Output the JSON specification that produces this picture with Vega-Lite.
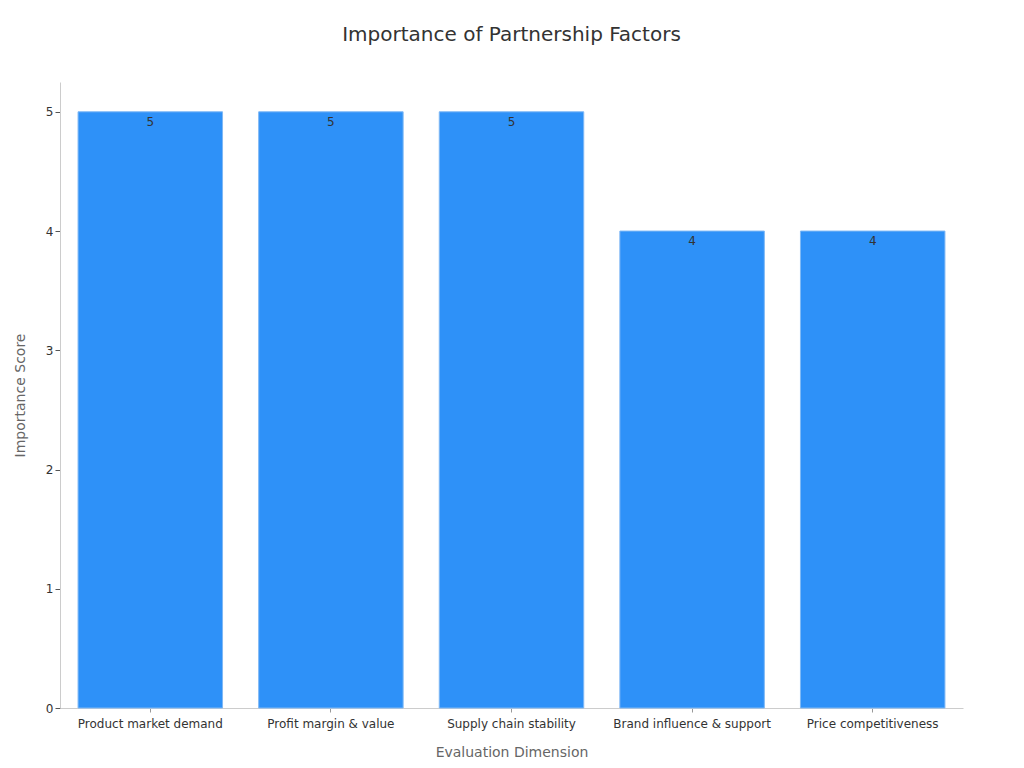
{
  "$schema": "https://vega.github.io/schema/vega-lite/v6.json",
  "description": "Importance of Partnership Factors",
  "autosize": {"type": "none"},
  "padding": {"left": 60, "top": 82, "right": 61, "bottom": 60},
  "width": 903,
  "height": 626,
  "title": {
    "text": "Importance of Partnership Factors",
    "font": "DejaVu Sans",
    "fontSize": 20,
    "fontWeight": "normal",
    "color": "#333333",
    "offset": 37
  },
  "config": {
    "view": {"stroke": null},
    "font": "DejaVu Sans"
  },
  "data": {
    "values": [
      {"dimension": "Product market demand", "score": 5},
      {"dimension": "Profit margin & value", "score": 5},
      {"dimension": "Supply chain stability", "score": 5},
      {"dimension": "Brand influence & support", "score": 4},
      {"dimension": "Price competitiveness", "score": 4}
    ]
  },
  "encoding": {
    "x": {
      "field": "dimension",
      "type": "nominal",
      "sort": null,
      "title": "Evaluation Dimension",
      "scale": {"paddingInner": 0.2, "paddingOuter": 0.1},
      "axis": {
        "labelAngle": 0,
        "labelFontSize": 12,
        "labelColor": "#333333",
        "labelPadding": 6,
        "titleFontSize": 14,
        "titleFontWeight": "normal",
        "titleColor": "#666666",
        "titlePadding": 16,
        "domainColor": "#cccccc",
        "tickColor": "#999999",
        "tickSize": 4
      }
    },
    "y": {
      "field": "score",
      "type": "quantitative",
      "title": "Importance Score",
      "scale": {"domain": [0, 5.25], "nice": false},
      "axis": {
        "values": [0, 1, 2, 3, 4, 5],
        "grid": false,
        "labelFontSize": 12,
        "labelColor": "#333333",
        "titleFontSize": 14,
        "titleFontWeight": "normal",
        "titleColor": "#666666",
        "titlePadding": 18,
        "domainColor": "#cccccc",
        "tickColor": "#555555",
        "tickSize": 5
      }
    }
  },
  "layer": [
    {
      "mark": {"type": "bar", "color": "#2E91F8", "stroke": "#7fb8f5", "strokeWidth": 1}
    },
    {
      "mark": {"type": "text", "baseline": "top", "dy": 5, "fontSize": 12, "color": "#333333"},
      "encoding": {"text": {"field": "score", "type": "quantitative"}}
    }
  ]
}
